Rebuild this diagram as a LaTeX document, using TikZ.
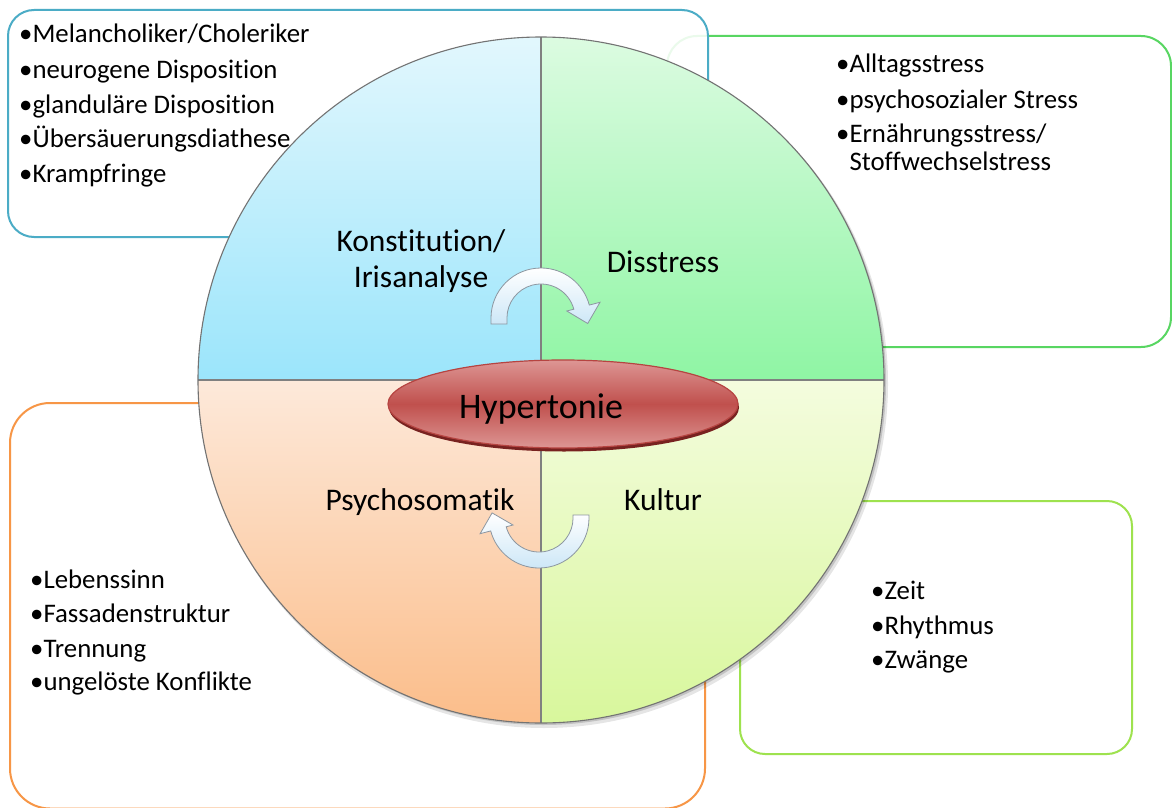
\documentclass[tikz,border=0pt]{standalone}
\usepackage{fontspec}
\setmainfont{Carlito}[Ligatures={NoCommon}]
\definecolor{bluebox}{RGB}{75,172,198}
\definecolor{greenbox}{RGB}{88,214,98}
\definecolor{orangebox}{RGB}{247,150,70}
\definecolor{limebox}{RGB}{158,226,78}
\definecolor{tlTop}{RGB}{226,247,253}
\definecolor{tlBot}{RGB}{155,229,251}
\definecolor{trTop}{RGB}{220,251,225}
\definecolor{trBot}{RGB}{143,245,164}
\definecolor{blTop}{RGB}{253,233,218}
\definecolor{blBot}{RGB}{251,189,138}
\definecolor{brTop}{RGB}{244,252,222}
\definecolor{brBot}{RGB}{216,247,156}
\definecolor{ellLight}{RGB}{221,150,148}
\definecolor{ellMid}{RGB}{192,80,77}
\definecolor{ellRim}{RGB}{120,34,32}
\definecolor{ellLine}{RGB}{182,68,65}
\definecolor{arrBot}{RGB}{205,231,247}
\definecolor{arrLine}{RGB}{140,150,160}
\definecolor{divLine}{RGB}{128,128,128}
\tikzset{
  infobox/.style={line width=2pt},
  boxtext/.style={anchor=base west, inner sep=0pt, font=\fontsize{26.8}{30}\selectfont},
  quadlabel/.style={anchor=base, inner sep=0pt, font=\fontsize{31.5}{36}\selectfont},
  cyclearrow/.style={draw=arrLine, line width=0.8pt, top color=white, bottom color=arrBot},
}
\begin{document}
\begin{tikzpicture}[x=1pt,y=-1pt]
\useasboundingbox (0,0) rectangle (1172,808);
\clip (0,0) rectangle (1172,808);
\fill[white] (0,0) rectangle (1172,808);

% info boxes (behind the circle)
\draw[infobox, draw=greenbox, fill=white, rounded corners=30pt] (667,36) rectangle (1171,347);
\draw[infobox, draw=bluebox, fill=white, fill opacity=0.88, rounded corners=26pt] (8,10) rectangle (708,237);
\draw[infobox, draw=orangebox, fill=white, rounded corners=40pt] (10,403) rectangle (705,808.5);
\draw[infobox, draw=limebox, fill=white, rounded corners=25pt] (740,501) rectangle (1132,754);

% circle shadow
\fill[black, opacity=0.10] (544,384) circle[radius=344];
\fill[black, opacity=0.15] (543,382) circle[radius=343];

% quadrants
\shade[top color=tlTop, bottom color=tlBot] (541,380) -- (198,380) arc[start angle=180, end angle=270, radius=343] -- cycle;
\shade[top color=trTop, bottom color=trBot] (541,380) -- (541,37) arc[start angle=270, end angle=360, radius=343] -- cycle;
\shade[top color=brTop, bottom color=brBot] (541,380) -- (884,380) arc[start angle=0, end angle=90, radius=343] -- cycle;
\shade[top color=blTop, bottom color=blBot] (541,380) -- (541,723) arc[start angle=90, end angle=180, radius=343] -- cycle;
\draw[divLine, line width=1.1pt] (198,380) -- (884,380);
\draw[divLine, line width=1.1pt] (541,37) -- (541,723);
\draw[divLine!90!black, line width=1.1pt] (541,380) circle[radius=343];

% cycle arrows
\path[cyclearrow] (491,324) -- (491,318) arc[start angle=180, end angle=345, radius=50]
  -- (600,302.3) -- (587.7,323.5) -- (566.8,311) -- (573.8,309.2)
  arc[start angle=345, end angle=180, radius=34] -- (507,324) -- cycle;
\path[cyclearrow] (589,515) -- (589,518) arc[start angle=0, end angle=165, radius=50]
  -- (480.1,533.7) -- (492.1,512.9) -- (513,525) -- (506.2,526.8)
  arc[start angle=165, end angle=0, radius=34] -- (573,515) -- cycle;

% central ellipse
\fill[ellRim] (564,407.5) ellipse[x radius=175, y radius=44];
\shade[top color=ellLight, bottom color=ellLight, middle color=ellMid] (563,404) ellipse[x radius=175, y radius=44];
\draw[ellLine, line width=1.2pt] (563,404) ellipse[x radius=175, y radius=44];
\node[anchor=base, inner sep=0pt, font=\fontsize{36}{40}\selectfont] (hyp) at (541,418) {Hypertonie};

% quadrant labels
\node[quadlabel] (konst) at (421,251) {Konstitution/};
\node[quadlabel] (iris) at (421,287) {Irisanalyse};
\node[quadlabel] (diss) at (663,272) {Disstress};
\node[quadlabel] (psych) at (420,510) {Psychosomatik};
\node[quadlabel] (kult) at (663,510) {Kultur};

% box texts
\node[boxtext] (b1) at (19,43) {•Melancholiker/Choleriker};
\node[boxtext] (b2) at (19,78) {•neurogene Disposition};
\node[boxtext] (b3) at (19,113) {•glanduläre Disposition};
\node[boxtext] (b4) at (19,147) {•Übersäuerungsdiathese};
\node[boxtext] (b5) at (19,182) {•Krampfringe};

\node[boxtext] (g1) at (836,73) {•Alltagsstress};
\node[boxtext] (g2) at (836,108) {•psychosozialer Stress};
\node[boxtext] (g3) at (836,142) {•Ernährungsstress/};
\node[boxtext] (g4) at (836,170) {\phantom{•}Stoffwechselstress};

\node[boxtext] (o1) at (30,588) {•Lebenssinn};
\node[boxtext] (o2) at (30,622) {•Fassadenstruktur};
\node[boxtext] (o3) at (30,657) {•Trennung};
\node[boxtext] (o4) at (30,690) {•ungelöste Konflikte};

\node[boxtext] (l1) at (871,599) {•Zeit};
\node[boxtext] (l2) at (871,634) {•Rhythmus};
\node[boxtext] (l3) at (871,668) {•Zwänge};
\end{tikzpicture}
\end{document}
